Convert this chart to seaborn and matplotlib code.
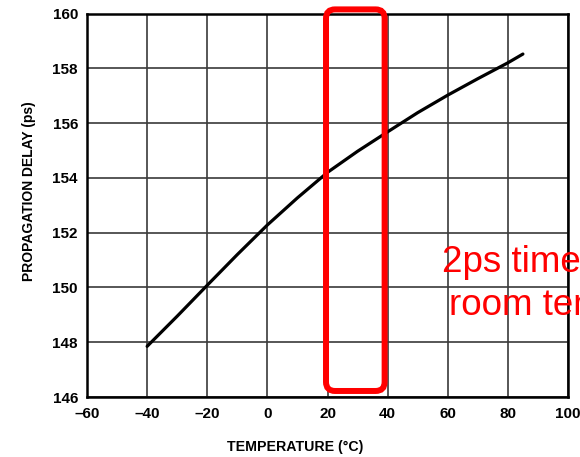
import matplotlib
matplotlib.use("Agg")
import matplotlib.pyplot as plt
import seaborn as sns
import pandas as pd
from matplotlib.patches import FancyBboxPatch

# Data
temperature_c = [-40, -30, -20, -10, 0, 10, 20, 30, 40, 50, 60, 70, 80, 85]
delay_ps = [147.85, 148.95, 150.08, 151.2, 152.28, 153.27, 154.2, 154.97,
            155.68, 156.38, 157.02, 157.62, 158.2, 158.52]
x_ticks = [-60, -40, -20, 0, 20, 40, 60, 80, 100]
y_ticks = [146, 148, 150, 152, 154, 156, 158, 160]
highlight_range = [19.5, 39.0]
note_lines = ["2ps time variation", "room temperature"]

df = pd.DataFrame({"temp": temperature_c, "delay": delay_ps})

sns.set_theme(style="whitegrid")
plt.rcParams["font.family"] = ["Liberation Sans", "DejaVu Sans"]

fig = plt.figure(figsize=(5.8, 4.57), dpi=100)
ax = fig.add_axes([87 / 580, 60 / 457, 481 / 580, 383.5 / 457])

sns.lineplot(data=df, x="temp", y="delay", ax=ax, color="black",
             linewidth=2.3, zorder=3)

ax.set_xlim(-60, 100)
ax.set_ylim(146, 160)
ax.set_xticks(x_ticks)
ax.set_yticks(y_ticks)
ax.set_xticklabels([f"{t:d}".replace("-", "\u2013") for t in x_ticks])
ax.set_yticklabels([str(t) for t in y_ticks])
ax.tick_params(axis="both", length=0, labelsize=11, colors="black")
ax.tick_params(axis="x", pad=7)
ax.tick_params(axis="y", pad=6.5)
for lab in ax.get_xticklabels() + ax.get_yticklabels():
    lab.set_fontweight("bold")

ax.grid(True, color="#3a3a3a", linewidth=1.2)
ax.set_facecolor("white")
for s in ax.spines.values():
    s.set_color("black")
    s.set_linewidth(1.8)
    s.set_visible(True)

ax.set_xlabel("TEMPERATURE (°C)", fontsize=10.2, fontweight="bold",
              color="black")
ax.set_ylabel("PROPAGATION DELAY (ps)", fontsize=10.0, fontweight="bold",
              color="black")
ax.xaxis.set_label_coords(0.432, -0.111)
ax.yaxis.set_label_coords(-0.107, 0.537)

# Red rounded highlight box (display-aspect corrected)
px_per_x = 481 / 160
px_per_y = 383.5 / 14
aspect = px_per_x / px_per_y
y0, y1 = 146.22, 160.15
box = FancyBboxPatch((highlight_range[0], y0),
                     highlight_range[1] - highlight_range[0], y1 - y0,
                     boxstyle="round,pad=0,rounding_size=3.0",
                     mutation_aspect=aspect,
                     facecolor="none", edgecolor="#ff0000", linewidth=4.3,
                     clip_on=False, zorder=4)
ax.add_patch(box)

fig.text(441.5 / 580, (457 - 271.7) / 457, note_lines[0], color="#ff0000",
         fontsize=26.5, ha="left", va="baseline", family=["Liberation Sans"])
fig.text(449 / 580, (457 - 315) / 457, note_lines[1], color="#ff0000",
         fontsize=26.5, ha="left", va="baseline", family=["Liberation Sans"])

fig.savefig("out.png", dpi=100)
